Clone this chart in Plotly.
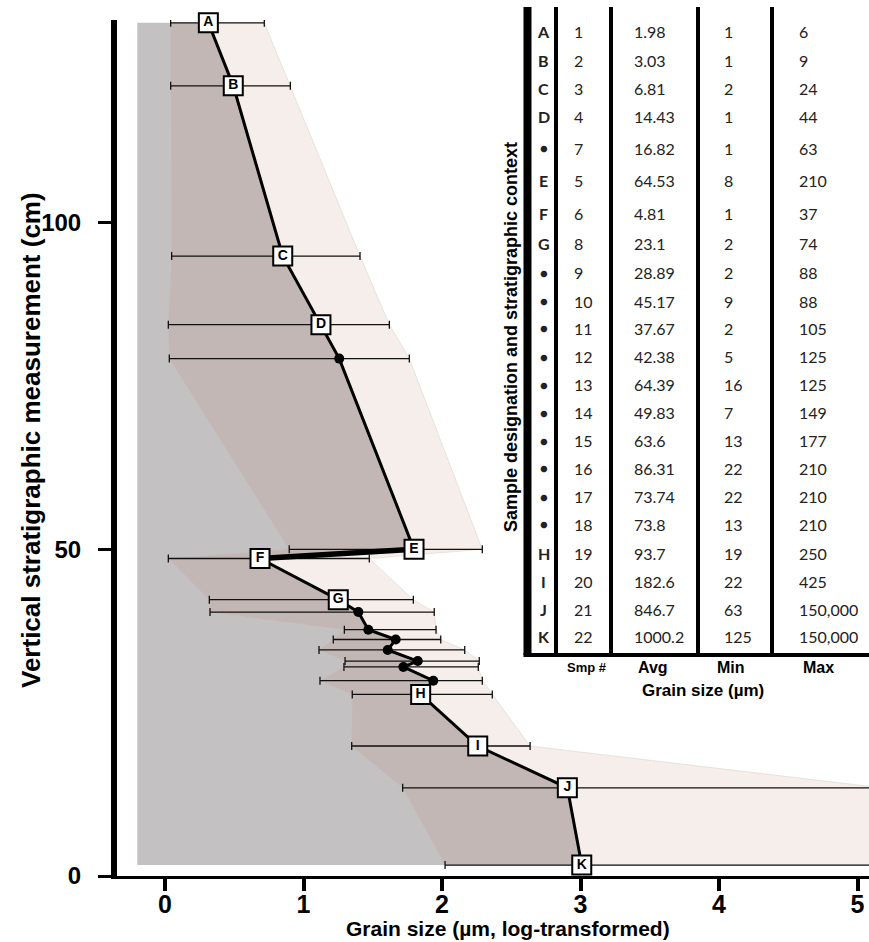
import plotly.graph_objects as go

# ---------------- data ----------------
point_labels = ["A", "B", "C", "D", "", "E", "F", "G", "", "", "", "", "", "", "", "H", "I", "J", "K"]
depth_cm = [130.6, 120.95, 94.9, 84.4, 79.2, 50.0, 48.6, 42.3, 40.4, 37.7, 36.2, 34.6,
            32.9, 32.0, 29.9, 27.8, 19.9, 13.5, 1.67]
avg_log = [0.313, 0.493, 0.850, 1.126, 1.258, 1.798, 0.686, 1.251, 1.396, 1.468, 1.666,
           1.608, 1.825, 1.721, 1.937, 1.846, 2.258, 2.905, 3.009]
min_log = [0.041, 0.041, 0.048, 0.024, 0.031, 0.897, 0.024, 0.320, 0.325, 1.295, 1.215,
           1.112, 1.300, 1.292, 1.119, 1.352, 1.348, 1.716, 2.022]
max_log = [0.717, 0.905, 1.408, 1.620, 1.764, 2.291, 1.475, 1.793, 1.944, 1.957, 1.991,
           2.164, 2.269, 2.262, 2.291, 2.363, 2.636, 5.176, 5.176]
gray_left = -0.2

# table
tbl_desig = ["A", "B", "C", "D", "●", "E", "F", "G", "●", "●", "●", "●", "●", "●", "●",
             "●", "●", "●", "H", "I", "J", "K"]
tbl_smp = ["1", "2", "3", "4", "7", "5", "6", "8", "9", "10", "11", "12", "13", "14", "15",
           "16", "17", "18", "19", "20", "21", "22"]
tbl_avg = ["1.98", "3.03", "6.81", "14.43", "16.82", "64.53", "4.81", "23.1", "28.89",
           "45.17", "37.67", "42.38", "64.39", "49.83", "63.6", "86.31", "73.74", "73.8",
           "93.7", "182.6", "846.7", "1000.2"]
tbl_min = ["1", "1", "2", "1", "1", "8", "1", "2", "2", "9", "2", "5", "16", "7", "13",
           "22", "22", "13", "19", "22", "63", "125"]
tbl_max = ["6", "9", "24", "44", "63", "210", "37", "74", "88", "88", "105", "125", "125",
           "149", "177", "210", "210", "210", "250", "425", "150,000", "150,000"]
x_ticks = [0, 1, 2, 3, 4, 5]
y_ticks = [0, 50, 100]

# ---------------- layout geometry ----------------
W, H = 869, 942
ML, MR, MT, MB = 117, 0, 20, 66
PW, PH = W - ML - MR, H - MT - MB


def px(x):
    return (x - ML) / PW


def py(y):
    return 1 - (y - MT) / PH


fig = go.Figure()

# gray background region (left edge to average curve)
fig.add_trace(go.Scatter(
    x=avg_log + [gray_left, gray_left],
    y=depth_cm + [depth_cm[-1], depth_cm[0]],
    fill="toself", fillcolor="#c4c1c3", mode="lines", line=dict(width=0),
    hoverinfo="skip", showlegend=False))

# min-max envelope
fig.add_trace(go.Scatter(
    x=max_log + min_log[::-1],
    y=depth_cm + depth_cm[::-1],
    fill="toself", fillcolor="rgba(180,113,80,0.12)", mode="lines",
    line=dict(width=0.6, color="rgba(200,190,188,0.6)"),
    hoverinfo="skip", showlegend=False))

# error bars
fig.add_trace(go.Scatter(
    x=avg_log, y=depth_cm, mode="markers",
    marker=dict(size=1, opacity=0),
    error_x=dict(type="data", symmetric=False,
                 array=[h - a for h, a in zip(max_log, avg_log)],
                 arrayminus=[a - l for a, l in zip(avg_log, min_log)],
                 color="#111", thickness=1.3, width=4),
    hoverinfo="skip", showlegend=False))

# average curve
fig.add_trace(go.Scatter(x=avg_log, y=depth_cm, mode="lines",
                         line=dict(color="black", width=3), showlegend=False))
fig.add_trace(go.Scatter(x=avg_log[5:7], y=depth_cm[5:7], mode="lines",
                         line=dict(color="black", width=5.5), showlegend=False))

# dot markers
dot_idx = [i for i, s in enumerate(point_labels) if s == ""]
fig.add_trace(go.Scatter(
    x=[avg_log[i] for i in dot_idx], y=[depth_cm[i] for i in dot_idx],
    mode="markers", marker=dict(size=10, color="black"), showlegend=False, cliponaxis=False))

# letter boxes
box_idx = [i for i, s in enumerate(point_labels) if s != ""]
fig.add_trace(go.Scatter(
    x=[avg_log[i] for i in box_idx], y=[depth_cm[i] for i in box_idx],
    mode="markers+text", text=[point_labels[i] for i in box_idx],
    textposition="middle center",
    textfont=dict(family="Liberation Sans", size=14, color="black", weight="bold"),
    marker=dict(symbol="square", size=19, color="white", line=dict(color="black", width=2)),
    showlegend=False, cliponaxis=False))

# ---------------- table ----------------
shapes = []
row_y = [31.7, 60, 88.3, 116.7, 148.3, 181, 213.3, 243.3, 272.7, 301, 328.3, 356.7, 385,
         412.7, 440.7, 468.3, 496.7, 524.3, 553.3, 581.7, 609.3, 636.7]
tbl_top, tbl_bot = 7, 655
shapes.append(dict(type="line", xref="paper", yref="paper", x0=px(527.5), x1=px(527.5),
                   y0=py(tbl_top), y1=py(tbl_bot), line=dict(color="black", width=8)))
for xv in [556, 611, 698, 772]:
    shapes.append(dict(type="line", xref="paper", yref="paper", x0=px(xv), x1=px(xv),
                       y0=py(tbl_top), y1=py(tbl_bot), line=dict(color="black", width=4)))
shapes.append(dict(type="line", xref="paper", yref="paper", x0=px(523.5), x1=px(869),
                   y0=py(tbl_bot), y1=py(tbl_bot), line=dict(color="black", width=4)))

annotations = []


def ann(x, y, text, font, xanchor="center", angle=0):
    annotations.append(dict(x=px(x), y=py(y), xref="paper", yref="paper", text=text,
                            showarrow=False, xanchor=xanchor, yanchor="middle",
                            textangle=angle, font=font))


cell_font = dict(family="Lato", size=16, color="#222")
for i in range(len(tbl_desig)):
    ann(543.5, row_y[i], tbl_desig[i],
        dict(family="Lato", size=16 if tbl_desig[i] != "●" else 13, color="#222", weight="bold"))
    for xv, col in [(572, tbl_smp), (632, tbl_avg), (722, tbl_min), (797, tbl_max)]:
        ann(xv, row_y[i], col[i], cell_font, xanchor="left")

hdr_font = dict(family="Liberation Sans", size=16, color="black", weight="bold")
ann(587, 667, "Smp #", dict(family="Liberation Sans", size=13, color="black", weight="bold"))
for xv, t in [(653, "Avg"), (731, "Min"), (818, "Max")]:
    ann(xv, 667, t, hdr_font)
ann(703, 690, "Grain size (µm)", dict(family="Liberation Sans", size=17, color="black", weight="bold"))
ann(511, 337, "Sample designation and stratigraphic context",
    dict(family="Liberation Sans", size=18, color="black", weight="bold"), angle=-90)

# axis titles
ann(508, 928, "Grain size (µm, log-transformed)",
    dict(family="Liberation Sans", size=21, color="black", weight="bold"))
ann(31, 440, "Vertical stratigraphic measurement (cm)",
    dict(family="Liberation Sans", size=26, color="black", weight="bold"), angle=-90)

fig.update_layout(
    width=W, height=H, margin=dict(l=ML, r=MR, t=MT, b=MB),
    paper_bgcolor="white", plot_bgcolor="white",
    shapes=shapes, annotations=annotations, showlegend=False,
    xaxis=dict(range=[(ML - 165) / 138.5, (W - 165) / 138.5], tickvals=x_ticks,
               ticktext=[str(v) for v in x_ticks],
               showgrid=False, zeroline=False, showline=True, linecolor="black", linewidth=3,
               ticks="outside", ticklen=12, tickwidth=4, tickcolor="black",
               ticklabelstandoff=-8,
               tickfont=dict(family="Liberation Sans", size=25, color="black", weight="bold")),
    yaxis=dict(range=[0, 131.03], tickvals=y_ticks, ticktext=[str(v) for v in y_ticks],
               showgrid=False, zeroline=False, showline=True, linecolor="black", linewidth=6,
               ticks="outside", ticklen=13, tickwidth=3, tickcolor="black",
               ticklabelstandoff=12,
               tickfont=dict(family="Liberation Sans", size=24, color="black", weight="bold")),
)

fig.write_html("out.html", config={"displayModeBar": False},
               post_script="document.body.style.margin='0';")
